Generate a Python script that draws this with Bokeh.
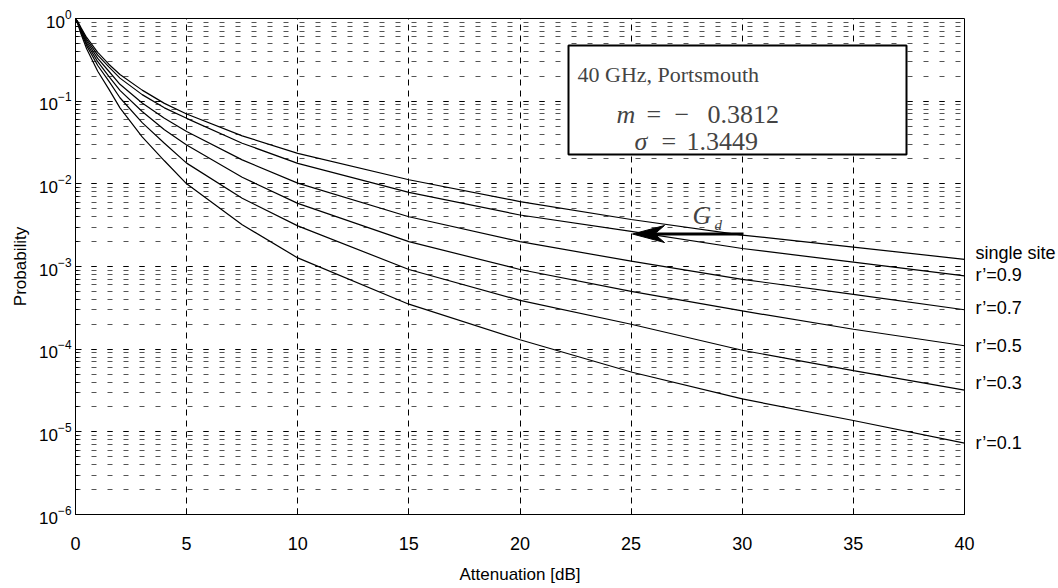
import math
from bokeh.plotting import figure
from bokeh.models import (FixedTicker, Label, BoxAnnotation, Range1d, LinearAxis,
                          LinearScale, CustomJSTickFormatter)
from bokeh.embed import file_html
from bokeh.resources import INLINE

# ---------------- data ----------------
attenuation_db = [0, 0.1, 0.25, 0.5, 1, 1.5, 2, 3, 4, 5, 7.5, 10, 15, 20, 25, 30, 35, 40]
single_site = [1, 0.92, 0.77, 0.59, 0.39, 0.28, 0.21, 0.136, 0.094, 0.070, 0.038, 0.0234,
               0.0112, 0.0061, 0.0037, 0.0024, 0.00172, 0.00122]
r_09 = [1, 0.91, 0.75, 0.56, 0.36, 0.26, 0.19, 0.12, 0.083, 0.062, 0.031, 0.0177,
        0.0079, 0.0042, 0.00266, 0.00165, 0.00113, 0.00077]
r_07 = [1, 0.90, 0.73, 0.53, 0.33, 0.23, 0.16, 0.095, 0.062, 0.043, 0.0195, 0.0102,
        0.0040, 0.0020, 0.00116, 0.00070, 0.00046, 0.00030]
r_05 = [1, 0.89, 0.71, 0.50, 0.30, 0.20, 0.135, 0.075, 0.045, 0.0295, 0.012, 0.0058,
        0.0020, 0.00092, 0.00050, 0.00029, 0.000174, 0.00011]
r_03 = [1, 0.88, 0.68, 0.47, 0.27, 0.175, 0.11, 0.055, 0.031, 0.0178, 0.0067, 0.0031,
        0.00092, 0.00039, 0.00020, 0.000097, 0.000055, 0.000032]
r_01 = [1, 0.86, 0.65, 0.43, 0.23, 0.14, 0.083, 0.037, 0.019, 0.0100, 0.0032, 0.00127,
        0.00035, 0.00013, 0.000053, 0.000025, 0.0000137, 0.0000073]

series = [single_site, r_09, r_07, r_05, r_03, r_01]
series_names = ["single site", "r\u2019=0.9", "r\u2019=0.7", "r\u2019=0.5", "r\u2019=0.3", "r\u2019=0.1"]
x_ticks = [0, 5, 10, 15, 20, 25, 30, 35, 40]

# ---------------- layout helpers (reference pixel frame) ----------------
FL, FR, FT, FB = 75, 964, 18, 514
X0, X1 = 0.0, 40.0
LY0, LY1 = -6.0, 0.0


def px2x(px):
    return X0 + (px - FL) / (FR - FL) * (X1 - X0)


def py2lg(py):
    return LY1 - (py - FT) / (FB - FT) * (LY1 - LY0)


def py2y(py):
    return 10 ** py2lg(py)


SANS = "Liberation Sans"
SERIF = "Liberation Serif"

p = figure(width=1058, height=588, y_axis_type="log",
           x_range=Range1d(X0, X1), y_range=Range1d(10 ** LY0, 10 ** LY1),
           output_backend="svg", toolbar_location=None,
           min_border_left=FL, min_border_right=1058 - FR,
           min_border_top=FT, min_border_bottom=588 - FB)
p.background_fill_color = "white"
p.border_fill_color = "white"
p.outline_line_color = "black"
p.outline_line_width = 1

# axes
p.xaxis.ticker = FixedTicker(ticks=x_ticks)
p.xaxis.axis_label = "Attenuation [dB]"
p.yaxis.axis_label = "Probability"
for ax in (p.xaxis[0], p.yaxis[0]):
    ax.axis_label_text_font = SANS
    ax.axis_label_text_font_size = "17px"
    ax.axis_label_text_font_style = "normal"
    ax.axis_label_text_color = "black"
    ax.major_label_text_font = SANS
    ax.major_label_text_color = "black"
    ax.major_tick_in = 6
    ax.major_tick_out = 0
    ax.minor_tick_in = 3
    ax.minor_tick_out = 0
    ax.axis_line_color = "black"
    ax.major_tick_line_color = "black"
    ax.minor_tick_line_color = "black"
p.xaxis.major_label_text_font_size = "18px"
p.yaxis.major_label_text_font_size = "17px"
p.xaxis.minor_tick_line_color = None
p.xaxis.major_label_standoff = 22
p.xaxis.axis_label_standoff = 12
p.yaxis.major_label_standoff = 4
p.yaxis.axis_label_standoff = 6

# grids
p.xgrid.ticker = FixedTicker(ticks=x_ticks)
p.xgrid.grid_line_color = "black"
p.xgrid.grid_line_dash = "6 5"
p.xgrid.grid_line_width = 1
p.ygrid.grid_line_color = "black"
p.ygrid.grid_line_dash = "5 11"
p.ygrid.minor_grid_line_color = "#555555"
p.ygrid.minor_grid_line_dash = "5 11"

# curves
for s in series:
    p.line(attenuation_db, s, line_color="black", line_width=1.2)

# right-hand curve labels, drawn as a tick-label-only axis on the right
label_py = [252.7, 274, 307.7, 345.7, 382, 442]
pairs = sorted(zip([py2lg(v) for v in label_py], series_names))
p.extra_y_ranges = {"lab": Range1d(LY0, LY1)}
p.extra_y_scales = {"lab": LinearScale()}
lab_axis = LinearAxis(y_range_name="lab",
                      ticker=FixedTicker(ticks=[a for a, _ in pairs], minor_ticks=[]),
                      formatter=CustomJSTickFormatter(args=dict(names=[b for _, b in pairs]),
                                                      code="return names[index];"),
                      axis_line_color=None, major_tick_line_color=None,
                      minor_tick_line_color=None, major_label_standoff=5,
                      major_label_text_font=SANS, major_label_text_font_size="18px",
                      major_label_text_color="black")
p.add_layout(lab_axis, "right")

# text box
p.add_layout(BoxAnnotation(left=px2x(568), right=px2x(906), top=py2y(45), bottom=py2y(154),
                           fill_color="white", fill_alpha=1.0, line_color="black",
                           line_alpha=1.0, line_width=2))
p.add_layout(Label(x=px2x(577), y=py2y(74), text="40 GHz, Portsmouth", text_font=SERIF,
                   text_font_size="22px", text_baseline="alphabetic"))
p.add_layout(Label(x=px2x(616), y=py2y(114), text="m", text_font=SERIF,
                   text_font_style="italic", text_font_size="26px", text_baseline="alphabetic"))
p.add_layout(Label(x=px2x(646), y=py2y(114), text="=", text_font=SERIF,
                   text_font_size="26px", text_baseline="alphabetic"))
p.add_layout(Label(x=px2x(674), y=py2y(114), text="\u2212", text_font=SERIF,
                   text_font_size="26px", text_baseline="alphabetic"))
p.add_layout(Label(x=px2x(707), y=py2y(114), text="0.3812", text_font=SERIF,
                   text_font_size="26px", text_baseline="alphabetic"))
p.add_layout(Label(x=px2x(634), y=py2y(141), text="\u03c3", text_font=SERIF,
                   text_font_style="italic", text_font_size="26px", text_baseline="alphabetic"))
p.add_layout(Label(x=px2x(661), y=py2y(141), text="=", text_font=SERIF,
                   text_font_size="26px", text_baseline="alphabetic"))
p.add_layout(Label(x=px2x(686), y=py2y(141), text="1.3449", text_font=SERIF,
                   text_font_size="26px", text_baseline="alphabetic"))

# G_d arrow: shaft + swept arrowhead
arrow_y = 233.5
p.line([px2x(652), px2x(743)], [py2y(arrow_y), py2y(arrow_y)], line_color="black", line_width=3)
p.patch([px2x(632), px2x(664), px2x(654), px2x(664)],
        [py2y(arrow_y), py2y(arrow_y - 8.5), py2y(arrow_y), py2y(arrow_y + 8.5)],
        fill_color="black", line_color="black", line_width=1)
p.add_layout(Label(x=px2x(692), y=py2y(215), text="G", text_font=SERIF,
                   text_font_style="italic", text_font_size="26px", text_baseline="alphabetic"))
p.add_layout(Label(x=px2x(714), y=py2y(224), text="d", text_font=SERIF,
                   text_font_style="italic", text_font_size="15px", text_baseline="alphabetic"))

with open("out.html", "w") as f:
    f.write(file_html(p, INLINE))
